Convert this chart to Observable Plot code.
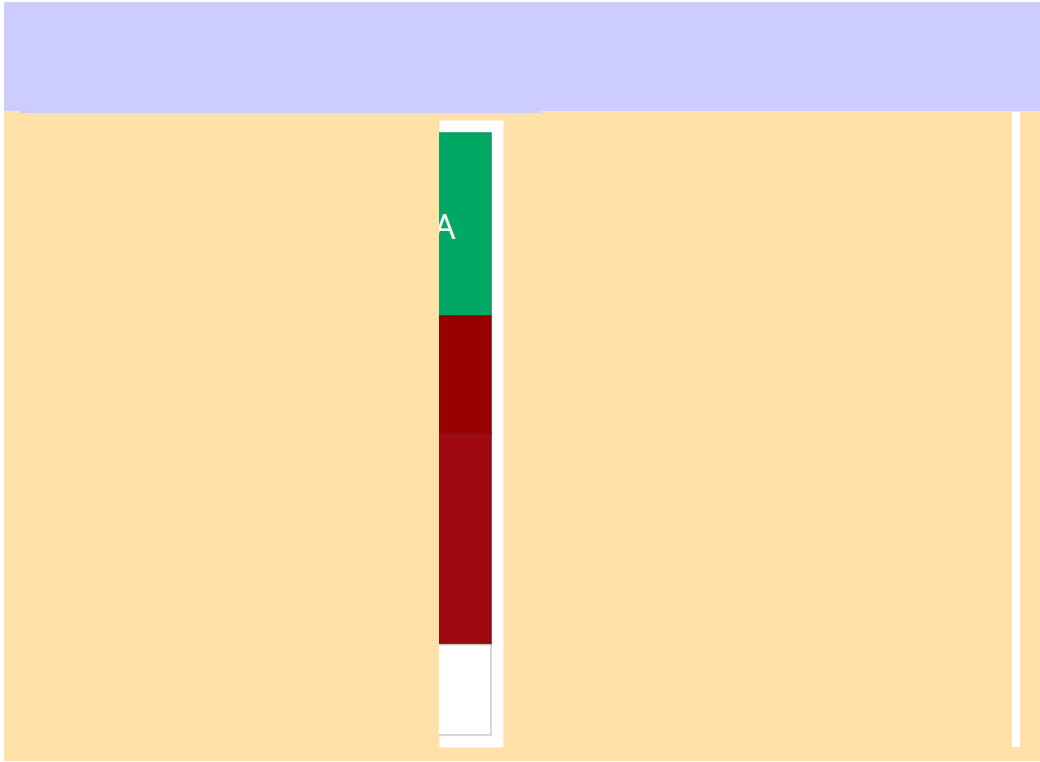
<!DOCTYPE html>
<html>
<head>
<meta charset="utf-8">
<script src="https://cdn.jsdelivr.net/npm/d3@7"></script>
<script src="https://cdn.jsdelivr.net/npm/@observablehq/plot@0.6"></script>
<style>
  html, body { margin: 0; padding: 0; background: #ffffff; }
  #wrap { position: relative; width: 1040px; height: 762px; overflow: hidden; }
  #banner { position: absolute; left: 4px; top: 2px; width: 1036px; height: 109px; background: #ccccff; }
  #bannerEdge { position: absolute; left: 20px; top: 111px; width: 521px; height: 2px; background: #ccccff; z-index: 2; }
  #panel { position: absolute; left: 4px; top: 111px; width: 1036px; height: 650px; background: #ffe1a8; }
  #chart { position: absolute; left: 0; top: 0; }
  #vline { position: absolute; left: 1008px; top: 1px; width: 8px; height: 635px; background: #ffffff; }
</style>
</head>
<body>
<div id="wrap">
  <div id="banner"></div>
  <div id="panel">
    <div id="chart"></div>
    <div id="vline"></div>
  </div>
  <div id="bannerEdge"></div>
</div>
<script>
// Data
const bars = ["Bar 1"];
const segments = ["A", "B", "C", "D"];
const values = [30.4, 19.4, 35.2, 15.0];
const labels = ["A", "", "", ""];
const fills = ["#00a864", "#990000", "#9e0a0f", "#ffffff"];
const strokes = ["#0b9458", "#8a0000", "#8c080c", "#c9c9c9"];

const table = segments.map((s, i) => ({
  bar: bars[0], segment: s, value: values[i], label: labels[i]
}));

const chart = Plot.plot({
  width: 1036,
  height: 650,
  marginLeft: 435,
  marginRight: 537,
  marginTop: 9,
  marginBottom: 14,
  style: { background: "transparent", overflow: "visible" },
  x: { type: "band", domain: bars, range: [393, 487], padding: 0, axis: null },
  y: { domain: [0, 100], range: [22, 624], axis: null },
  color: { domain: segments, range: fills },
  marks: [
    Plot.frame({ fill: "#ffffff", stroke: null }),
    Plot.barY(table, Plot.stackY({
      x: "bar", y: "value", z: "segment", order: null,
      fill: "segment",
      stroke: (d) => strokes[segments.indexOf(d.segment)],
      strokeWidth: 1.5,
      clip: true
    })),
    Plot.text(table, Plot.stackY({
      x: "bar", y: "value", z: "segment", order: null,
      text: "label",
      fill: "#ffffff",
      fontSize: 34,
      dy: 3,
      fontFamily: "Open Sans, DejaVu Sans, sans-serif",
      clip: true
    }))
  ]
});
document.getElementById("chart").appendChild(chart);
</script>
</body>
</html>
